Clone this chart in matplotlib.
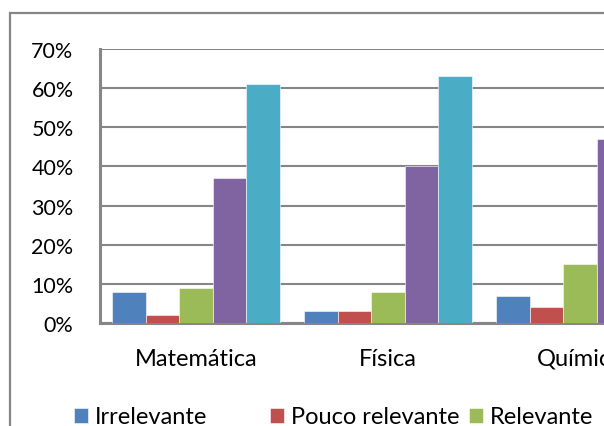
import matplotlib
matplotlib.use("Agg")
import matplotlib.pyplot as plt
from matplotlib.patches import Rectangle
import numpy as np

categories = ["Matemática", "Física", "Química"]
series_names = ["Irrelevante", "Pouco relevante", "Relevante", "Muito relevante", "Essencial"]
irrelevante = [8, 3, 7]
pouco_relevante = [2, 3, 4]
relevante = [9, 8, 15]
muito_relevante = [37, 40, 47]
essencial = [61, 63, 60]
yticks = [0, 10, 20, 30, 40, 50, 60, 70]
colors = ["#4F81BD", "#C0504D", "#9BBB59", "#8064A2", "#4BACC6"]

values = [irrelevante, pouco_relevante, relevante, muito_relevante, essencial]

W, H = 604, 427
fig = plt.figure(figsize=(W / 100, H / 100), dpi=100)
plt.rcParams['font.family'] = ['Lato', 'DejaVu Sans']

# outer chart border (cropped on right and bottom)
fig.patches.append(Rectangle((10 / W, -0.2), 1.5, (H - 14) / H + 0.2, transform=fig.transFigure,
                             fill=False, edgecolor="#868686", linewidth=1.6, zorder=0))

ax = fig.add_axes([100 / W, (H - 324) / H, 576 / W, 274 / H])
x = np.arange(len(categories))
bw = 0.174
bars = []
for i, (vals, c) in enumerate(zip(values, colors)):
    b = ax.bar(x + (i - 2) * bw, vals, width=bw, color=c, edgecolor="white", linewidth=0.4, zorder=3)
    bars.append(b)

ax.set_xlim(-0.5, len(categories) - 0.5)
ax.set_ylim(0, 70)
ax.set_yticks(yticks)
ax.set_yticklabels([f"{v}%" for v in yticks])
ax.set_xticks(x)
ax.set_xticklabels(categories)
ax.grid(axis="y", color="#868686", linewidth=1.5, zorder=0)
ax.set_axisbelow(True)
for s in ["top", "right"]:
    ax.spines[s].set_visible(False)
for s in ["left", "bottom"]:
    ax.spines[s].set_color("#868686")
    ax.spines[s].set_linewidth(2.2)
ax.tick_params(axis="y", length=0, pad=19, labelsize=15.5)
ax.tick_params(axis="x", length=0, pad=18, labelsize=17)

legend_x = [74, 270, 469, 667, 865]
for b, name, lx in zip(bars, series_names, legend_x):
    fig.legend(handles=[b], labels=[name], loc="center left",
               bbox_to_anchor=(lx / W, 9 / H), frameon=False, fontsize=17,
               handlelength=0.6, handleheight=0.6, handletextpad=0.3,
               borderpad=0, borderaxespad=0)

fig.savefig("out.png", dpi=100)
